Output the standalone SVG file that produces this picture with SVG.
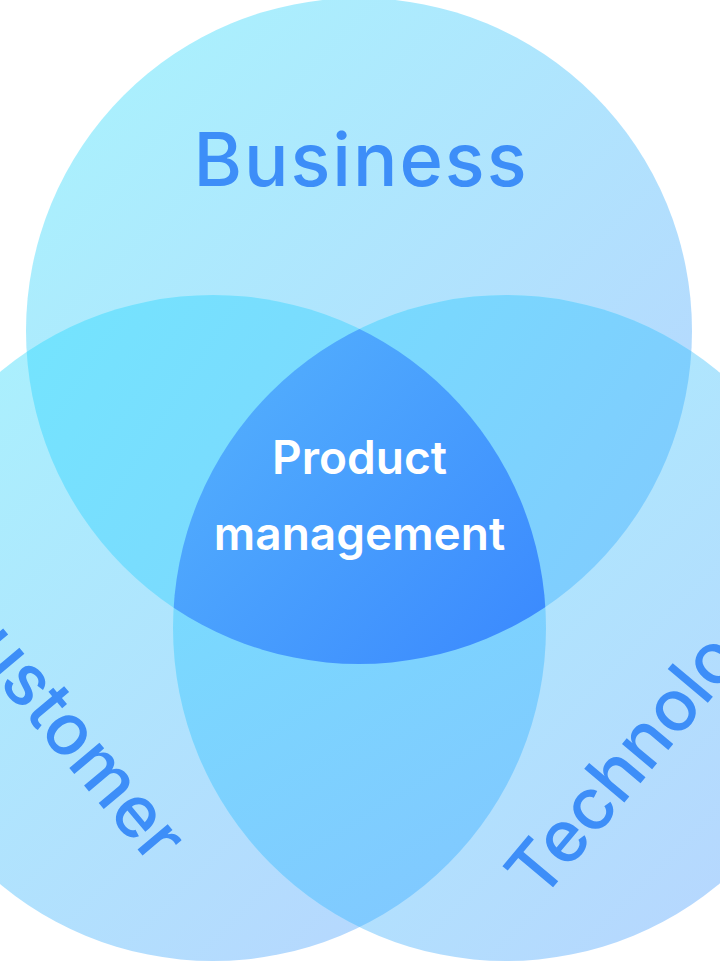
<svg xmlns="http://www.w3.org/2000/svg" width="720" height="961" viewBox="0 0 720 961">
<style>
.lbl{font-family:Inter,"Noto Sans","Liberation Sans",sans-serif;font-weight:500;fill:#3d8ef8;text-anchor:middle}
.ctr{font-family:Inter,"Noto Sans","Liberation Sans",sans-serif;font-weight:600;fill:#ffffff;text-anchor:middle;font-size:46px}
</style>
<defs>
<linearGradient id="gBase" x1="0" y1="0" x2="1" y2="1">
<stop offset="0" stop-color="#a8f4fd"/>
<stop offset="1" stop-color="#b8d3fe"/>
</linearGradient>
<linearGradient id="gTL" gradientUnits="userSpaceOnUse" x1="27" y1="330" x2="545" y2="660">
<stop offset="0" stop-color="#74e4fe"/>
<stop offset="1" stop-color="#82d0fe"/>
</linearGradient>
<linearGradient id="gTR" gradientUnits="userSpaceOnUse" x1="174" y1="300" x2="692" y2="640">
<stop offset="0" stop-color="#75e0fe"/>
<stop offset="1" stop-color="#82c9fe"/>
</linearGradient>
<linearGradient id="gLR" gradientUnits="userSpaceOnUse" x1="174" y1="330" x2="545" y2="927">
<stop offset="0" stop-color="#76e3fe"/>
<stop offset="1" stop-color="#82c6ff"/>
</linearGradient>
<linearGradient id="gC" gradientUnits="userSpaceOnUse" x1="174" y1="329" x2="545" y2="665">
<stop offset="0" stop-color="#56b4fd"/>
<stop offset="1" stop-color="#3a88fe"/>
</linearGradient>
<clipPath id="cT"><circle cx="359" cy="331" r="333"/></clipPath>
<clipPath id="cL"><circle cx="213" cy="628" r="333"/></clipPath>
<clipPath id="cR"><circle cx="506" cy="628" r="333"/></clipPath>
</defs>
<g id="business">
<circle cx="359" cy="331" r="333" fill="url(#gBase)"/>
</g>
<g id="customer">
<circle cx="213" cy="628" r="333" fill="url(#gBase)"/>
</g>
<g id="technology">
<circle cx="506" cy="628" r="333" fill="url(#gBase)"/>
</g>
<g id="overlaps">
<g clip-path="url(#cT)"><circle cx="213" cy="628" r="333" fill="url(#gTL)"/></g>
<g clip-path="url(#cT)"><circle cx="506" cy="628" r="333" fill="url(#gTR)"/></g>
<g clip-path="url(#cL)"><circle cx="506" cy="628" r="333" fill="url(#gLR)"/></g>
</g>
<g id="product-management">
<g clip-path="url(#cT)"><g clip-path="url(#cL)"><circle cx="506" cy="628" r="333" fill="url(#gC)"/></g></g>
<text class="ctr" x="359.5" y="474">Product</text>
<text class="ctr" x="359.5" y="550">management</text>
</g>
<g id="labels">
<text class="lbl" x="360" y="186" font-size="74" textLength="333">Business</text>
<text class="lbl" font-size="72" transform="translate(44,738) rotate(50)">Customer</text>
<text class="lbl" font-size="72" transform="translate(670,748) rotate(-50)">Technology</text>
</g>
<g id="connectors"/>
</svg>
